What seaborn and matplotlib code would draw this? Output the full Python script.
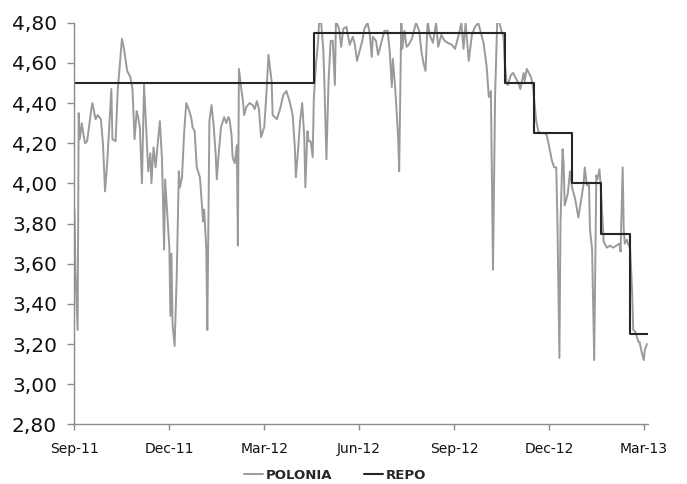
import matplotlib
matplotlib.use("Agg")
import matplotlib.pyplot as plt
import matplotlib.dates as mdates
from matplotlib.ticker import FixedLocator, FuncFormatter
import pandas as pd
import seaborn as sns

# ---- data ----
POLONIA_DATES = [
    "110926", "110927", "110929", "110930", "111001", "111003", "111004", "111006", "111008", "111012",
    "111013", "111016", "111018", "111021", "111023", "111025", "111027", "111031", "111101", "111104",
    "111106", "111108", "111110", "111112", "111115", "111118", "111120", "111122", "111124", "111125",
    "111127", "111129", "111201", "111203", "111205", "111207", "111208", "111210", "111212", "111214",
    "111216", "111218", "111219",
    "111220", "111221", "111223", "111225", "111226", "111227", "111228", "111230", "120101", "120102",
    "120103", "120104", "120106", "120108", "120110", "120113", "120115", "120116", "120118", "120120",
    "120123", "120124", "120126", "120127", "120129", "120130", "120201", "120203", "120205", "120207",
    "120208", "120210", "120212", "120215", "120217", "120219", "120220", "120222", "120223", "120225",
    "120227", "120228", "120229", "120302", "120304", "120305", "120307", "120310", "120313", "120315",
    "120317", "120319", "120321", "120324", "120326", "120328", "120331", "120401", "120405", "120408",
    "120411", "120414", "120417", "120420", "120422", "120423", "120425", "120427", "120429", "120501",
    "120502", "120504", "120505", "120507", "120509", "120510", "120512", "120514", "120515", "120517",
    "120519", "120520", "120522", "120524", "120526", "120528", "120530", "120531", "120603", "120605",
    "120607", "120610", "120611", "120613", "120616", "120618", "120620", "120623", "120625", "120627",
    "120630", "120702", "120704", "120705", "120708", "120710", "120713",
    "120716", "120719", "120721", "120723", "120724", "120726", "120727", "120729", "120730", "120801",
    "120802", "120804", "120806", "120808", "120811", "120813", "120815", "120818", "120820", "120822",
    "120824", "120826", "120828", "120831", "120903", "120905", "120908", "120911", "120914", "120918",
    "120921", "120924", "120927", "120929", "121001", "121004", "121007", "121010", "121013", "121016",
    "121018", "121021", "121023", "121025", "121027", "121029", "121031", "121102", "121104", "121106",
    "121107", "121109", "121110", "121113", "121115", "121118", "121120", "121122", "121125", "121126",
    "121128", "121130", "121202", "121204", "121205", "121207", "121209", "121211", "121215", "121217",
    "121219", "121222", "121224", "121226", "121227", "121229", "121230", "130101", "130102", "130103",
    "130106", "130108", "130110", "130111", "130113", "130116", "130119", "130121", "130122", "130124",
    "130126", "130127", "130129", "130131", "130202", "130203", "130205", "130206", "130209", "130212",
    "130215", "130218", "130221", "130224", "130225", "130227", "130228", "130301", "130303", "130304",
    "130306", "130308", "130309", "130311", "130314", "130315", "130317", "130319", "130320", "130322",
]
POLONIA_VALUES = [
    3.87, 3.55, 3.27, 4.35, 4.22, 4.30, 4.26, 4.20, 4.21, 4.37,
    4.40, 4.32, 4.34, 4.32, 4.20, 3.96, 4.10, 4.47, 4.22, 4.21,
    4.46, 4.59, 4.72, 4.67, 4.56, 4.53, 4.47, 4.22, 4.36, 4.34,
    4.28, 4.00, 4.49, 4.28, 4.06, 4.15, 4.00, 4.18, 4.08, 4.20,
    4.31, 4.12, 3.91,
    3.67, 4.02, 3.85, 3.68, 3.34, 3.65, 3.30, 3.19, 3.54, 3.80,
    4.06, 3.98, 4.03, 4.25, 4.40, 4.36, 4.32, 4.28, 4.26, 4.08,
    4.03, 3.96, 3.81, 3.87, 3.68, 3.27, 4.31, 4.39, 4.29, 4.14,
    4.02, 4.16, 4.28, 4.33, 4.30, 4.33, 4.32, 4.24, 4.13, 4.10,
    4.19, 3.69, 4.57, 4.48, 4.40, 4.34, 4.38, 4.40, 4.39, 4.37,
    4.41, 4.37, 4.23, 4.28, 4.44, 4.64, 4.51, 4.34, 4.32, 4.37,
    4.44, 4.46, 4.41, 4.34, 4.18, 4.03, 4.16, 4.31, 4.40, 4.23,
    3.98, 4.26, 4.21, 4.21, 4.13, 4.42, 4.59, 4.70, 4.80, 4.80,
    4.67, 4.51, 4.12, 4.51, 4.71, 4.71, 4.49, 4.81, 4.77, 4.68,
    4.77, 4.78, 4.75, 4.69, 4.73, 4.69, 4.61, 4.67, 4.71, 4.77,
    4.80, 4.75, 4.63, 4.73, 4.71, 4.64, 4.70,
    4.76, 4.76, 4.66, 4.48, 4.62, 4.49, 4.41, 4.23, 4.06, 4.81,
    4.67, 4.76, 4.68, 4.69, 4.72, 4.76, 4.80, 4.76, 4.66, 4.60,
    4.56, 4.81, 4.74, 4.70, 4.80, 4.68, 4.74, 4.71, 4.70, 4.69,
    4.67, 4.73, 4.80, 4.67, 4.80, 4.61, 4.74, 4.78, 4.80, 4.74,
    4.70, 4.58, 4.43, 4.46, 3.57, 4.44, 4.81, 4.80, 4.76, 4.73,
    4.61, 4.50, 4.49, 4.54, 4.55, 4.52, 4.50, 4.47, 4.55, 4.51,
    4.57, 4.55, 4.53, 4.48, 4.42, 4.31, 4.26, 4.25, 4.25, 4.24,
    4.19, 4.11, 4.08, 4.08, 3.84, 3.13, 3.80, 4.17, 4.10, 3.89,
    3.95, 4.06, 3.98, 3.96, 3.92, 3.83, 3.93, 4.00, 4.08, 3.99,
    4.00, 3.77, 3.67, 3.12, 4.04, 4.02, 4.07, 4.00, 3.71, 3.68,
    3.69, 3.68, 3.69, 3.70, 3.66, 4.08, 3.77, 3.70, 3.72, 3.70,
    3.68, 3.46, 3.27, 3.26, 3.21, 3.21, 3.16, 3.12, 3.17, 3.20,
]
REPO_DATES = ["2011-09-26", "2012-05-10", "2012-11-07", "2012-12-05",
              "2013-01-10", "2013-02-06", "2013-03-06", "2013-03-23"]
REPO_VALUES = [4.50, 4.75, 4.50, 4.25, 4.00, 3.75, 3.25, 3.25]

TICK_DATES = ["2011-09-26", "2011-12-25", "2012-03-24", "2012-06-22",
              "2012-09-20", "2012-12-19", "2013-03-19"]
TICK_LABELS = ["Sep-11", "Dec-11", "Mar-12", "Jun-12", "Sep-12", "Dec-12", "Mar-13"]
Y_TICKS = [2.8, 3.0, 3.2, 3.4, 3.6, 3.8, 4.0, 4.2, 4.4, 4.6, 4.8]

SERIES_NAMES = ["POLONIA", "REPO"]

# ---- styling ----
sns.set_theme(style="white")
plt.rcParams["font.family"] = ["DejaVu Sans"]

GREY = "#9a9a9a"
DARK = "#262626"
AXIS = "#8c8c8c"

pol = pd.DataFrame({"date": pd.to_datetime(POLONIA_DATES, format="%y%m%d"),
                    "value": POLONIA_VALUES})
rep = pd.DataFrame({"date": pd.to_datetime(REPO_DATES), "value": REPO_VALUES})

fig = plt.figure(figsize=(6.87, 4.84), dpi=100)
ax = fig.add_axes([0.1084, 0.1233, 0.9432 - 0.1084, 0.953 - 0.1233])

sns.lineplot(data=pol, x="date", y="value", estimator=None, sort=False,
             color=GREY, linewidth=1.4, ax=ax, label=SERIES_NAMES[0])
sns.lineplot(data=rep, x="date", y="value", estimator=None, sort=False,
             color=DARK, linewidth=1.5, drawstyle="steps-post", ax=ax,
             label=SERIES_NAMES[1])

ax.set_ylim(2.8, 4.8)
ax.set_xlim(pd.Timestamp("2011-09-26"), pd.Timestamp("2013-03-23"))

ax.yaxis.set_major_locator(FixedLocator(Y_TICKS))
ax.yaxis.set_major_formatter(FuncFormatter(lambda v, p: f"{v:.2f}".replace(".", ",")))
tick_nums = mdates.date2num(pd.to_datetime(TICK_DATES))
ax.set_xticks(tick_nums)
ax.set_xticklabels(TICK_LABELS)

ax.set_xlabel("")
ax.set_ylabel("")

for side in ["top", "right"]:
    ax.spines[side].set_visible(False)
for side in ["left", "bottom"]:
    ax.spines[side].set_color(AXIS)
    ax.spines[side].set_linewidth(1.0)

ax.tick_params(axis="y", which="major", direction="out", length=5, width=1.0,
               color=AXIS, labelsize=14.5, pad=7.5, left=True, labelcolor="#111111")
ax.tick_params(axis="x", which="major", direction="out", length=4.5, width=1.0,
               color=AXIS, labelsize=10, pad=8, bottom=True, labelcolor="#111111")

handles, labels = ax.get_legend_handles_labels()
ax.get_legend().remove()
leg = fig.legend(handles, labels, loc="center", bbox_to_anchor=(0.488, 0.018),
                 ncol=2, frameon=False, handlelength=1.4, handletextpad=0.25,
                 columnspacing=2.4, prop={"weight": "bold", "size": 9.5})

fig.savefig("out.png", dpi=100)
